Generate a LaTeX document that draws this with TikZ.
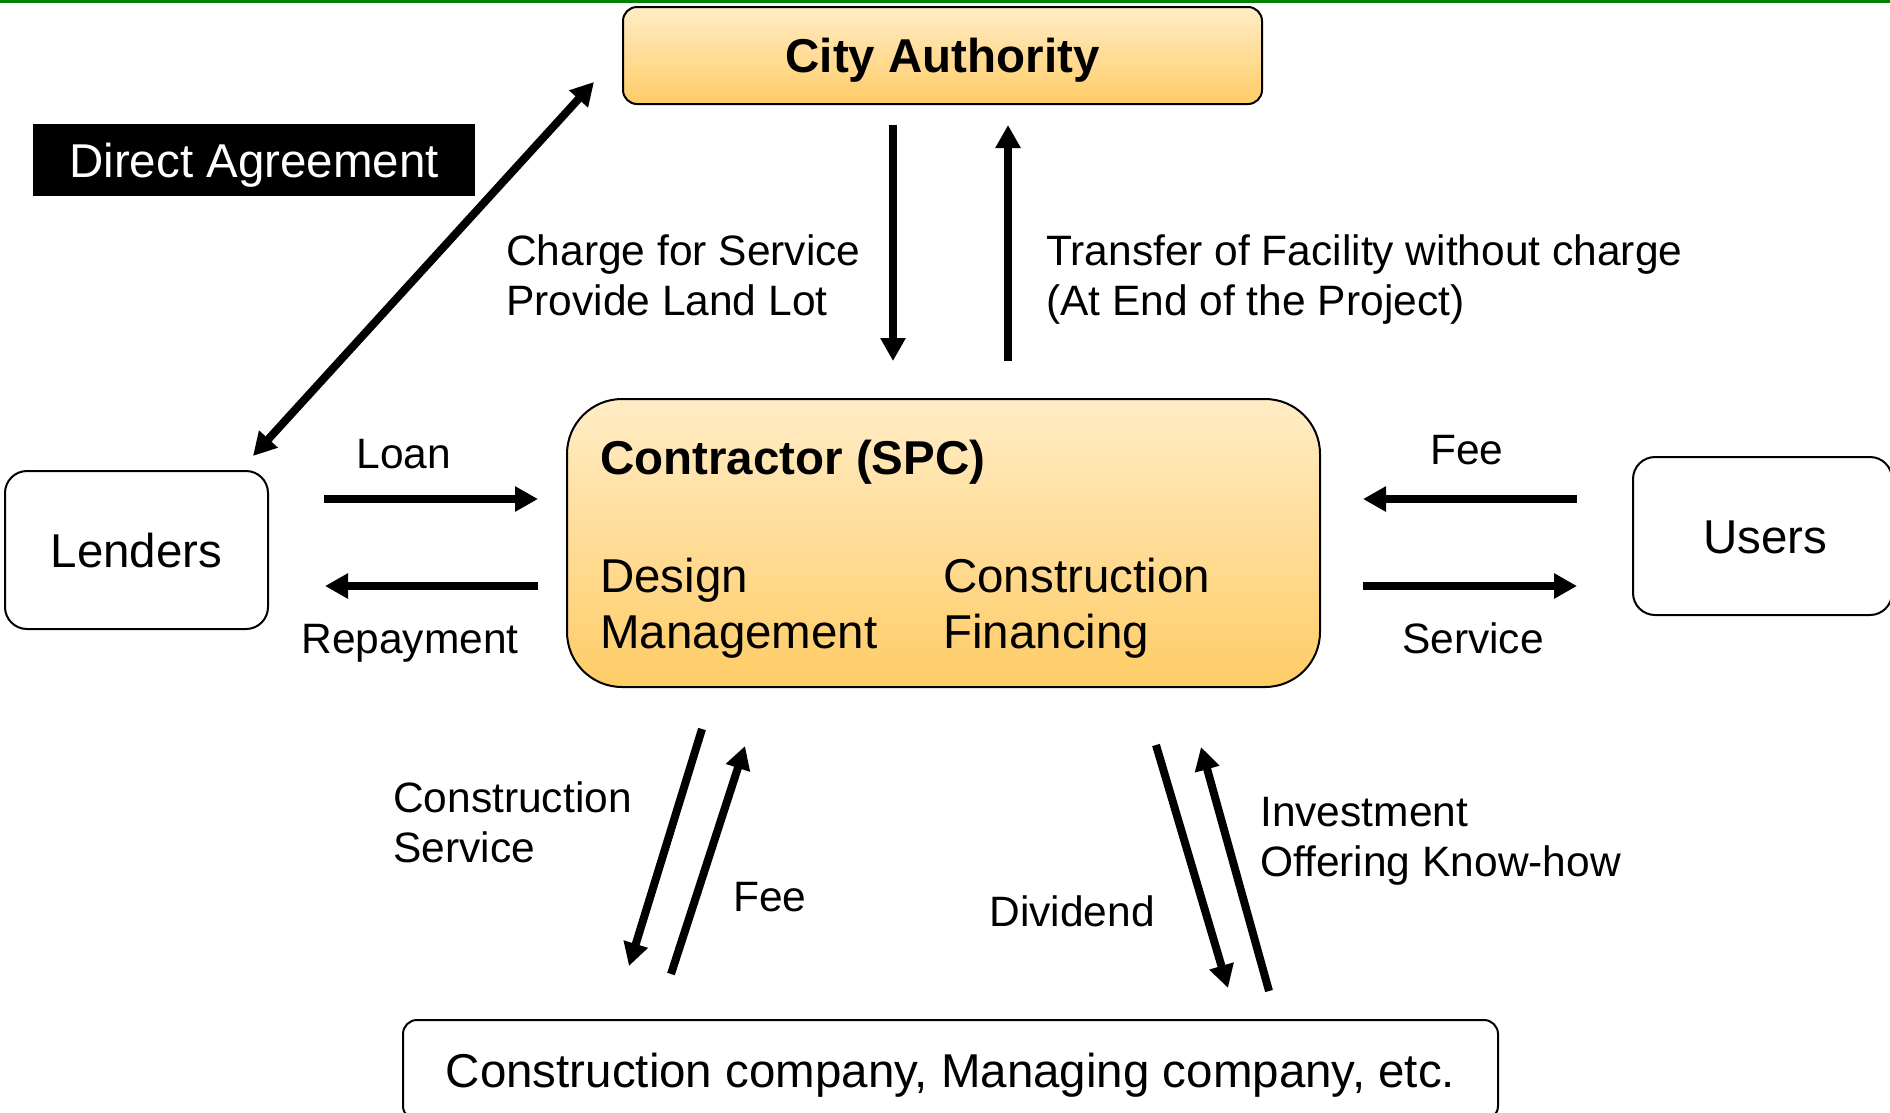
\documentclass[tikz,border=0pt]{standalone}
\usepackage{fontspec}
\setmainfont{Liberation Sans}
\usetikzlibrary{arrows.meta}
\definecolor{topband}{RGB}{0,128,0}
\definecolor{boxtop}{RGB}{255,236,198}
\definecolor{boxbot}{RGB}{255,204,102}
\newcommand{\bigfont}{\fontsize{47.5}{57}\selectfont}
\newcommand{\lblfont}{\fontsize{42.5}{50}\selectfont}
\begin{document}
\begin{tikzpicture}[x=1pt,y=-1pt,
  captext/.style={text height=34pt,text depth=-1pt},
  gradbox/.style={draw=black,line width=2pt,top color=boxtop,bottom color=boxbot,inner sep=0pt},
  plainbox/.style={draw=black,line width=2pt,fill=white,inner sep=0pt,font=\bigfont,captext},
  lbl/.style={inner sep=0pt,font=\lblfont,align=left},
  inner/.style={anchor=base west,inner sep=0pt,font=\bigfont},
  flow/.style={line width=8pt,-{Triangle[length=23pt,width=24pt]}},
  both/.style={line width=8pt,{Triangle[length=23pt,width=24pt]}-{Triangle[length=23pt,width=24pt]}}]
\useasboundingbox (0,0) rectangle (1890,1112);
\fill[topband] (0,0) rectangle (1890,3);

% main parties
\node[gradbox,rounded corners=14pt,minimum width=639pt,minimum height=97pt,font=\bigfont\bfseries,captext]
  (city) at (942.5,55.5) {City Authority};
\node[fill=black,text=white,inner sep=0pt,minimum width=442pt,minimum height=72pt,font=\bigfont,captext]
  (da) at (254,160) {Direct Agreement};
\node[plainbox,rounded corners=22pt,minimum width=263pt,minimum height=158pt]
  (lenders) at (136.5,550) {Lenders};
\node[plainbox,rounded corners=22pt,minimum width=259pt,minimum height=158pt]
  (users) at (1762.5,536) {\hspace*{5pt}Users};
\node[gradbox,rounded corners=55pt,minimum width=753pt,minimum height=288pt]
  (spc) at (943.5,543) {};
\node[plainbox,rounded corners=14pt,minimum width=1095pt,minimum height=100pt]
  (comp) at (950.5,1070) {Construction company, Managing company, etc.};

% contents of the contractor box
\node[inner,font=\bigfont\bfseries] (spct) at (600,474) {Contractor (SPC)};
\node[inner] (des) at (600,592) {Design};
\node[inner] (man) at (600,648) {Management};
\node[inner] (con) at (943,592) {Construction};
\node[inner] (fin) at (943,648) {Financing};

% arrow end points
\coordinate (daA) at (253,456);   \coordinate (daB) at (594,82);
\coordinate (cdA) at (893,125);   \coordinate (cdB) at (893,361);
\coordinate (cuA) at (1008,361);  \coordinate (cuB) at (1008,125);
\coordinate (loA) at (324,499);   \coordinate (loB) at (538,499);
\coordinate (reA) at (538,586);   \coordinate (reB) at (325,586);
\coordinate (ufA) at (1577,499);  \coordinate (ufB) at (1363,499);
\coordinate (usA) at (1363,586);  \coordinate (usB) at (1577,586);
\coordinate (csA) at (702,729);   \coordinate (csB) at (629,966);
\coordinate (cfA) at (671,974);   \coordinate (cfB) at (745,746);
\coordinate (dvA) at (1156,745);  \coordinate (dvB) at (1228,988);
\coordinate (ivA) at (1269,991);  \coordinate (ivB) at (1201,747);

\draw[both] (daA) -- (daB);
\draw[flow] (cdA) -- (cdB);
\draw[flow] (cuA) -- (cuB);
\draw[flow] (loA) -- (loB);
\draw[flow] (reA) -- (reB);
\draw[flow] (ufA) -- (ufB);
\draw[flow] (usA) -- (usB);
\draw[flow] (csA) -- (csB);
\draw[flow] (cfA) -- (cfB);
\draw[flow] (dvA) -- (dvB);
\draw[flow] (ivA) -- (ivB);

% labels
\node[lbl,anchor=west] (l1) at (506,275) {Charge for Service\\Provide Land Lot};
\node[lbl,anchor=west] (l2) at (1046,280) {Transfer of Facility without charge\\(At End of the Project)};
\node[lbl] (l3) at (404,454) {Loan};
\node[lbl] (l4) at (410,643) {Repayment};
\node[lbl] (l5) at (1467,450) {Fee};
\node[lbl] (l6) at (1473,638) {Service};
\node[lbl,anchor=west] (l7) at (393,822) {Construction\\Service};
\node[lbl] (l8) at (770,897) {Fee};
\node[lbl] (l9) at (1072,911) {Dividend};
\node[lbl,anchor=west] (l10) at (1260,841) {Investment\\Offering Know-how};
\end{tikzpicture}
\end{document}
